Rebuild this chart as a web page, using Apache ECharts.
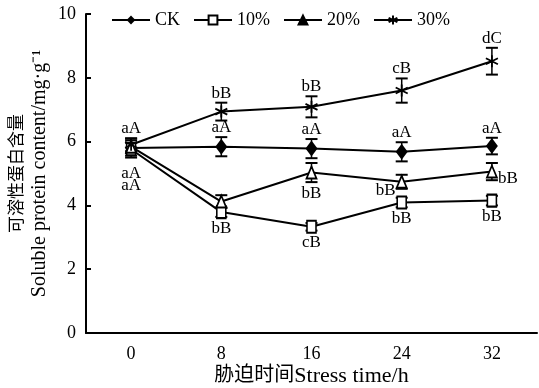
<!DOCTYPE html>
<html><head><meta charset="utf-8">
<script src="https://cdn.jsdelivr.net/npm/echarts@6/dist/echarts.min.js"></script>
<style>html,body{margin:0;padding:0;background:#fff}#c{width:539px;height:388px}</style>
</head><body><div id="c"></div>
<script>
var categories = ['0', '8', '16', '24', '32'];
var seriesNames = ['CK', '10%', '20%', '30%'];
var ck = [5.80, 5.84, 5.78, 5.68, 5.86];
var p10 = [5.76, 3.79, 3.33, 4.09, 4.15];
var p20 = [5.84, 4.12, 5.03, 4.74, 5.06];
var p30 = [5.90, 6.94, 7.09, 7.60, 8.52];
var ckErr = [0.30, 0.30, 0.30, 0.30, 0.26];
var p10Err = [0.20, 0.15, 0.12, 0.15, 0.15];
var p20Err = [0.20, 0.20, 0.30, 0.22, 0.27];
var p30Err = [0.20, 0.28, 0.33, 0.38, 0.42];
var ckLetters = ['aA', 'aA', 'aA', 'aA', 'aA'];
var p10Letters = ['aA', 'bB', 'cB', 'bB', 'bB'];
var p20Letters = ['aA', '', 'bB', 'bB', 'bB'];
var p30Letters = ['', 'bB', 'bB', 'cB', 'dC'];
var yTicks = [0, 2, 4, 6, 8, 10];

var FONT = '"Liberation Serif", "Noto Sans CJK SC", serif';
var values = [ck, p10, p20, p30];
var errs = [ckErr, p10Err, p20Err, p30Err];
var letters = [ckLetters, p10Letters, p20Letters, p30Letters];
var placement = ['above', 'below', 'below', 'above'];

var starPath = 'path://M0,-10L0,10M-8.66,-5L8.66,5M-8.66,5L8.66,-5';
var symbols = ['diamond', 'rect', 'triangle', starPath];
var symbolSizes = [[12, 16], [9, 12], [10, 12], 12];
var fills = ['#000', '#fff', '#fff', '#000'];

var chart = echarts.init(document.getElementById('c'), null, {renderer: 'canvas'});

function errRender(si) {
  return function (params, api) {
    var x = api.value(0), y = api.value(1), e = api.value(2);
    var top = api.coord([x, y + e]);
    var bot = api.coord([x, y - e]);
    var hw = 6;
    var st = {stroke: '#000', lineWidth: 2};
    return {type: 'group', children: [
      {type: 'line', shape: {x1: top[0], y1: top[1], x2: bot[0], y2: bot[1]}, style: {stroke: '#000', lineWidth: 1.5}},
      {type: 'line', shape: {x1: top[0] - hw, y1: top[1], x2: top[0] + hw, y2: top[1]}, style: st},
      {type: 'line', shape: {x1: bot[0] - hw, y1: bot[1], x2: bot[0] + hw, y2: bot[1]}, style: st}
    ]};
  };
}

function labelRender(si) {
  return function (params, api) {
    var x = api.value(0), y = api.value(1), e = api.value(2);
    var txt = letters[si][params.dataIndex];
    if (!txt) return null;
    var pos = placement[si];
    var p, align = 'center', va = 'bottom', dx = 0, dy = 0;
    if (pos === 'above') {
      p = api.coord([x, y + e]); dy = -1;
    } else {
      p = api.coord([x, y - e]); va = 'top'; dy = 3;
    }
    if (si === 1 && params.dataIndex === 0) { dy = 9; }
    if (si === 2 && params.dataIndex === 0) { dy = 24; }
    if (si === 2 && params.dataIndex === 3) { p = api.coord([x, y]); align = 'right'; va = 'top'; dx = -6; dy = 0; }
    if (si === 2 && params.dataIndex === 4) { p = api.coord([x, y]); align = 'left'; va = 'middle'; dx = 6; dy = 7; }
    return {type: 'text', x: p[0] + dx, y: p[1] + dy,
      style: {text: txt, fill: '#000', font: '17px ' + FONT, textAlign: align, textVerticalAlign: va}};
  };
}

var series = [];
for (var i = 0; i < 4; i++) {
  series.push({
    name: seriesNames[i], type: 'line', data: values[i], z: 5,
    symbol: symbols[i], symbolSize: symbolSizes[i], showAllSymbol: true,
    lineStyle: {color: '#000', width: 2},
    itemStyle: {color: fills[i], borderColor: '#000', borderWidth: i === 0 ? 0 : 1.8},
    emphasis: {disabled: true}, animation: false
  });
}
for (var j = 0; j < 4; j++) {
  series.push({
    type: 'custom', z: 4, silent: true, animation: false,
    data: values[j].map(function (v, k) { return [k, v, errs[this][k]]; }, j),
    renderItem: errRender(j), encode: {x: 0, y: 1}
  });
  series.push({
    type: 'custom', z: 6, silent: true, animation: false,
    data: values[j].map(function (v, k) { return [k, v, errs[this][k]]; }, j),
    renderItem: labelRender(j), encode: {x: 0, y: 1}
  });
}

chart.setOption({
  animation: false,
  backgroundColor: '#fff',
  legend: {
    data: [
      {name: 'CK'}, {name: '10%'},
      {name: '20%', itemStyle: {color: '#000'}}, {name: '30%'}
    ],
    left: 106, top: 6, itemWidth: 38, itemHeight: 11, itemGap: 13,
    textStyle: {fontFamily: FONT, fontSize: 18, color: '#000'},
    selectedMode: false
  },
  grid: {left: 86, right: 2, top: 14, bottom: 55, containLabel: false, outerBoundsMode: 'none'},
  xAxis: {
    type: 'category', data: categories, boundaryGap: true,
    axisLine: {lineStyle: {color: '#000', width: 2}},
    axisTick: {inside: true, length: 5, lineStyle: {color: '#000', width: 2}},
    axisLabel: {color: '#000', fontFamily: FONT, fontSize: 18, margin: 12},
    name: '{cn|胁迫时间}{en|Stress time/h}', nameLocation: 'middle', nameGap: 32,
    nameMoveOverlap: false,
    nameTextStyle: {color: '#000', fontFamily: FONT, fontSize: 20,
      rich: {cn: {fontFamily: FONT, fontSize: 20, color: '#000'}, en: {fontFamily: FONT, fontSize: 22, color: '#000'}}}
  },
  yAxis: {
    type: 'value', min: 0, max: 10, interval: 2,
    axisLine: {show: true, lineStyle: {color: '#000', width: 2}},
    axisTick: {show: true, inside: true, length: 5, lineStyle: {color: '#000', width: 2}},
    splitLine: {show: false},
    axisLabel: {color: '#000', fontFamily: FONT, fontSize: 18, margin: 10},
    name: '{cn|可溶性蛋白含量}\n{en|Soluble protein content/mg·g⁻¹}', nameLocation: 'middle', nameGap: 35,
    nameRotate: 90, nameMoveOverlap: false,
    nameTextStyle: {color: '#000', fontFamily: FONT, fontSize: 20,
      rich: {cn: {fontFamily: FONT, fontSize: 17, lineHeight: 22, color: '#000'},
             en: {fontFamily: FONT, fontSize: 20, lineHeight: 22, color: '#000'}}}
  },
  series: series
});
</script>
</body></html>
